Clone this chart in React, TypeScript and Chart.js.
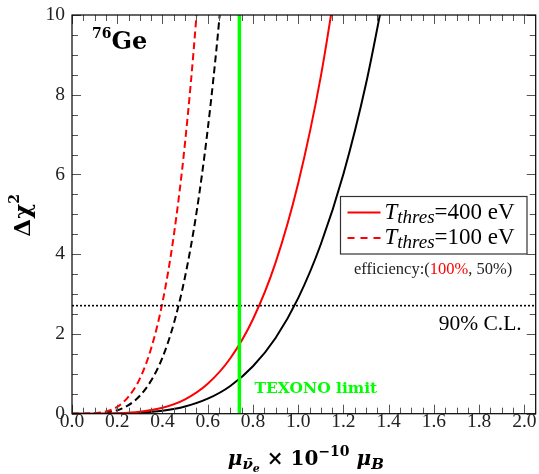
import React, { useEffect, useRef } from 'react';
import { Chart, registerables } from 'chart.js';

Chart.register(...registerables);

// ---- data ----
const MU_SOLID = [0, 0.1, 0.2, 0.3, 0.4, 0.5, 0.6, 0.7, 0.8, 0.9, 1.0, 1.1, 1.2, 1.3, 1.4];
const CHI2_RED_400 = [0, 0.0006, 0.009, 0.047, 0.148, 0.36, 0.75, 1.39, 2.37, 3.79, 5.78, 8.46, 12.0];
const CHI2_BLACK_400 = [0, 0.0003, 0.0046, 0.023, 0.074, 0.181, 0.376, 0.696, 1.19, 1.9, 2.9, 4.25, 6.01, 8.28, 11.14];

const MU_DASHED = [0, 0.05, 0.1, 0.15, 0.2, 0.25, 0.3, 0.35, 0.4, 0.45, 0.5, 0.55, 0.6, 0.65, 0.7];
const CHI2_RED_100 = [0, 0.0007, 0.011, 0.055, 0.17, 0.43, 0.88, 1.64, 2.79, 4.47, 6.81, 9.97, 14.1];
const CHI2_BLACK_100 = [0, 0.0003, 0.0055, 0.028, 0.088, 0.215, 0.45, 0.83, 1.41, 2.26, 3.44, 5.03, 7.13, 9.82, 13.2];

const TEXONO_LIMIT = 0.74;
const CL90 = 2.71;

const X_MIN = 0;
const X_MAX = 2.05;
const Y_MIN = 0;
const Y_MAX = 10;
const X_TICKS = [0, 0.2, 0.4, 0.6, 0.8, 1.0, 1.2, 1.4, 1.6, 1.8, 2.0];
const Y_TICKS = [0, 2, 4, 6, 8, 10];
const X_MINOR_STEP = 0.05;
const Y_MINOR_STEP = 0.5;

const LEGEND_ITEMS = [
  { sub: 'thres', rest: '=400 eV', dash: [] as number[] },
  { sub: 'thres', rest: '=100 eV', dash: [7, 6] },
];

const SERIF = '"Liberation Serif", "Times New Roman", Tinos, "DejaVu Serif", serif';
const BOLD_SERIF = '"DejaVu Serif", "Liberation Serif", serif';

type Run = { t: string; font: string; dy?: number; color?: string };

function drawRuns(ctx: CanvasRenderingContext2D, runs: Run[], x: number, y: number, align: 'left' | 'center' | 'right', color = '#000') {
  let total = 0;
  for (const r of runs) {
    ctx.font = r.font;
    total += ctx.measureText(r.t).width;
  }
  let cx = align === 'left' ? x : align === 'center' ? x - total / 2 : x - total;
  ctx.textAlign = 'left';
  ctx.textBaseline = 'alphabetic';
  for (const r of runs) {
    ctx.font = r.font;
    ctx.fillStyle = r.color || color;
    ctx.fillText(r.t, cx, y + (r.dy || 0));
    cx += ctx.measureText(r.t).width;
  }
  return total;
}

const pts = (xs: number[], ys: number[]) => ys.map((y, i) => ({ x: xs[i], y }));

const framePlugin = {
  id: 'frameTicks',
  afterDatasetsDraw(chart: any) {
    const { ctx, chartArea: a, scales } = chart;
    const xs = scales.x;
    const ys = scales.y;
    ctx.save();
    ctx.strokeStyle = '#555';
    ctx.lineWidth = 1;
    ctx.beginPath();
    const nx = Math.round((X_MAX - X_MIN) / X_MINOR_STEP);
    for (let i = 0; i <= nx; i++) {
      const v = X_MIN + i * X_MINOR_STEP;
      if (v >= X_MAX - 1e-9) continue;
      const major = X_TICKS.some((t) => Math.abs(t - v) < 1e-6);
      const len = major ? 9 : 6;
      const px = Math.round(xs.getPixelForValue(v)) + 0.5;
      ctx.moveTo(px, a.bottom);
      ctx.lineTo(px, a.bottom - len);
      ctx.moveTo(px, a.top);
      ctx.lineTo(px, a.top + len);
    }
    const ny = Math.round((Y_MAX - Y_MIN) / Y_MINOR_STEP);
    for (let i = 0; i <= ny; i++) {
      const v = Y_MIN + i * Y_MINOR_STEP;
      const major = Y_TICKS.some((t) => Math.abs(t - v) < 1e-6);
      const len = major ? 9 : 6;
      const py = Math.round(ys.getPixelForValue(v)) + 0.5;
      ctx.moveTo(a.left, py);
      ctx.lineTo(a.left + len, py);
      ctx.moveTo(a.right, py);
      ctx.lineTo(a.right - len, py);
    }
    ctx.stroke();
    ctx.strokeStyle = '#000';
    ctx.lineWidth = 1.2;
    ctx.strokeRect(a.left, a.top, a.right - a.left, a.bottom - a.top);
    ctx.restore();
  },
  afterDraw(chart: any) {
    const { ctx, chartArea: a, scales } = chart;
    const xs = scales.x;
    const ys = scales.y;
    ctx.save();

    // 76Ge label
    drawRuns(ctx, [
      { t: '76', font: `bold 14px ${BOLD_SERIF}`, dy: -11 },
      { t: 'Ge', font: `bold 24px ${BOLD_SERIF}` },
    ], a.left + 20, a.top + 33.5, 'left');

    // TEXONO limit
    drawRuns(ctx, [{ t: 'TEXONO limit', font: `bold 15.5px ${BOLD_SERIF}`, color: '#00ff00' }],
      xs.getPixelForValue(TEXONO_LIMIT) + 15, ys.getPixelForValue(0.53), 'left');

    // 90% C.L.
    drawRuns(ctx, [{ t: '90% C.L.', font: `21.5px ${SERIF}` }], a.right - 14, ys.getPixelForValue(CL90) + 24, 'right');

    // legend box
    const lx = 340.5, ly = 196.5, lw = 186.5, lh = 57.5;
    ctx.fillStyle = '#fff';
    ctx.fillRect(lx, ly, lw, lh);
    ctx.strokeStyle = '#333';
    ctx.lineWidth = 1.2;
    ctx.strokeRect(lx, ly, lw, lh);
    LEGEND_ITEMS.forEach((it, i) => {
      const by = ly + 22 + i * 25.5;
      ctx.strokeStyle = '#ff0000';
      ctx.lineWidth = 2;
      ctx.setLineDash(it.dash);
      ctx.beginPath();
      ctx.moveTo(lx + 7, by - 6);
      ctx.lineTo(lx + 40, by - 6);
      ctx.stroke();
      ctx.setLineDash([]);
      drawRuns(ctx, [
        { t: 'T', font: `italic 23px ${SERIF}` },
        { t: it.sub, font: `italic 19px ${SERIF}`, dy: 4 },
        { t: it.rest, font: `23px ${SERIF}` },
      ], lx + 44, by, 'left');
    });

    // efficiency note
    drawRuns(ctx, [
      { t: 'efficiency:(', font: `16.5px ${SERIF}`, color: '#222' },
      { t: '100%', font: `16.5px ${SERIF}`, color: '#ff0000' },
      { t: ', 50%)', font: `16.5px ${SERIF}`, color: '#222' },
    ], 354, 273.5, 'left');

    // x-axis title
    const bx = `bold italic 20px ${BOLD_SERIF}`;
    drawRuns(ctx, [
      { t: 'μ', font: bx },
      { t: 'ν̄', font: `bold italic 15px ${BOLD_SERIF}`, dy: 4 },
      { t: 'e', font: `bold italic 11px ${BOLD_SERIF}`, dy: 7 },
      { t: ' × 10', font: `bold 20px ${BOLD_SERIF}` },
      { t: '−10', font: `bold 14px ${BOLD_SERIF}`, dy: -9 },
      { t: ' μ', font: bx },
      { t: 'B', font: `bold italic 15px ${BOLD_SERIF}`, dy: 4 },
    ], (a.left + a.right) / 2 + 2, 465, 'center');

    // y-axis title
    ctx.translate(30, (a.top + a.bottom) / 2 + 1);
    ctx.rotate(-Math.PI / 2);
    drawRuns(ctx, [
      { t: 'Δχ', font: `bold 23px ${BOLD_SERIF}` },
      { t: '2', font: `bold 14px ${BOLD_SERIF}`, dy: -11 },
    ], 0, 0, 'center');

    ctx.restore();
  },
};

export default function App() {
  const ref = useRef<HTMLCanvasElement | null>(null);

  useEffect(() => {
    const canvas = ref.current;
    if (!canvas) return;
    const chart = new Chart(canvas, {
      type: 'line',
      data: {
        datasets: [
          {
            label: 'TEXONO',
            data: [{ x: TEXONO_LIMIT, y: Y_MIN }, { x: TEXONO_LIMIT, y: Y_MAX }],
            borderColor: '#00ff00',
            borderWidth: 3.5,
            pointRadius: 0,
          },
          {
            label: '90% CL',
            data: [{ x: X_MIN, y: CL90 }, { x: X_MAX, y: CL90 }],
            borderColor: '#000',
            borderWidth: 1.6,
            borderDash: [2, 2],
            pointRadius: 0,
          },
          {
            label: 'red 400',
            data: pts(MU_SOLID, CHI2_RED_400),
            borderColor: '#ff0000',
            borderWidth: 2,
            pointRadius: 0,
            cubicInterpolationMode: 'monotone',
          },
          {
            label: 'black 400',
            data: pts(MU_SOLID, CHI2_BLACK_400),
            borderColor: '#000',
            borderWidth: 2,
            pointRadius: 0,
            cubicInterpolationMode: 'monotone',
          },
          {
            label: 'red 100',
            data: pts(MU_DASHED, CHI2_RED_100),
            borderColor: '#ff0000',
            borderWidth: 2,
            borderDash: [7, 4],
            pointRadius: 0,
            cubicInterpolationMode: 'monotone',
          },
          {
            label: 'black 100',
            data: pts(MU_DASHED, CHI2_BLACK_100),
            borderColor: '#000',
            borderWidth: 2,
            borderDash: [7, 4],
            pointRadius: 0,
            cubicInterpolationMode: 'monotone',
          },
        ],
      },
      options: {
        responsive: false,
        animation: false,
        events: [],
        layout: { padding: { top: 15, right: 3.3, left: 0, bottom: 0 } },
        plugins: { legend: { display: false }, tooltip: { enabled: false } },
        scales: {
          x: {
            type: 'linear',
            min: X_MIN,
            max: X_MAX,
            grid: { display: false, drawTicks: false },
            border: { display: false },
            afterBuildTicks: (s: any) => { s.ticks = X_TICKS.map((v) => ({ value: v })); },
            afterFit: (s: any) => { s.height = 60.3; s.paddingLeft = 0; s.paddingRight = 0; },
            ticks: {
              padding: -3.5,
              maxRotation: 0,
              autoSkip: false,
              color: '#222',
              font: { family: SERIF, size: 19.5 },
              callback: (v: any) => Number(v).toFixed(1),
            },
          },
          y: {
            type: 'linear',
            min: Y_MIN,
            max: Y_MAX,
            grid: { display: false, drawTicks: false },
            border: { display: false },
            afterBuildTicks: (s: any) => { s.ticks = Y_TICKS.map((v) => ({ value: v })); },
            afterFit: (s: any) => { s.width = 72; s.paddingTop = 0; s.paddingBottom = 0; },
            ticks: {
              padding: 7,
              autoSkip: false,
              color: '#222',
              font: { family: SERIF, size: 19.5 },
              callback: (v: any) => String(v),
            },
          },
        },
      },
      plugins: [framePlugin],
    });
    return () => chart.destroy();
  }, []);

  return (
    <div style={{ position: 'fixed', left: 0, top: 0, width: 539, height: 474, background: '#fff' }}>
      <canvas ref={ref} width={539} height={474} style={{ display: 'block' }} />
    </div>
  );
}
